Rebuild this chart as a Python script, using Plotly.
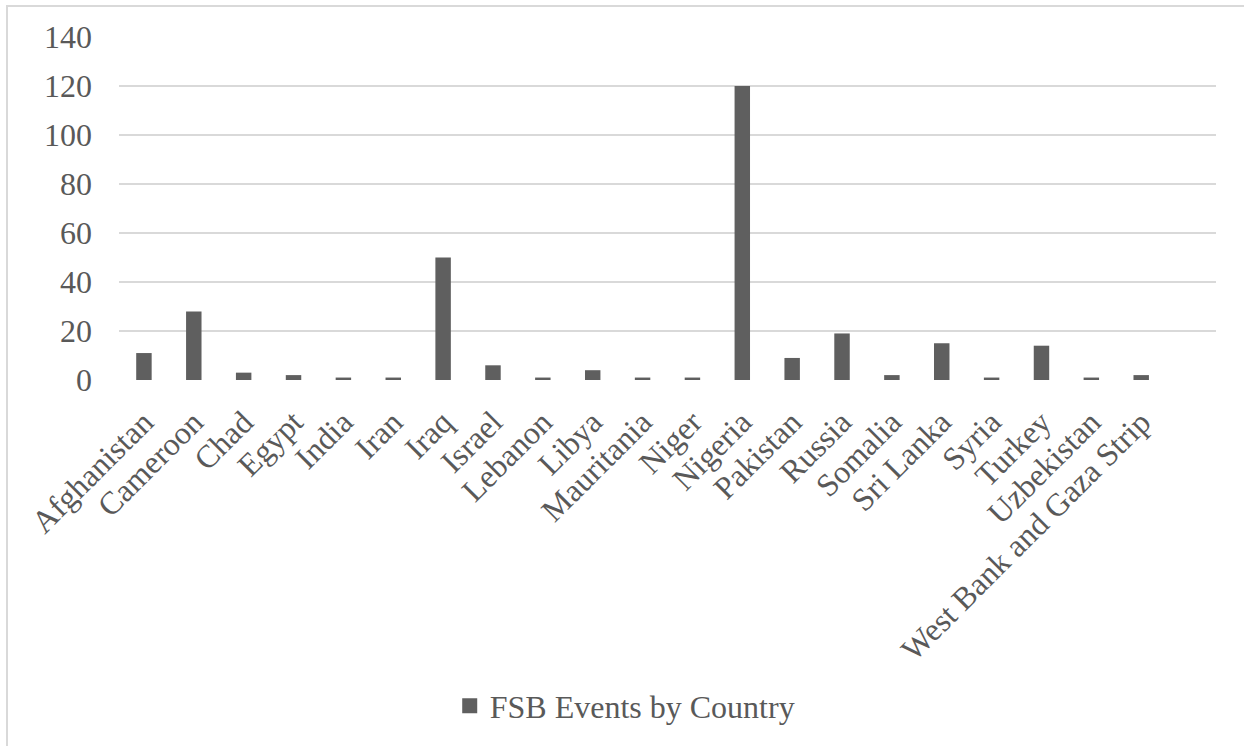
import plotly.graph_objects as go

countries = ["Afghanistan", "Cameroon", "Chad", "Egypt", "India", "Iran", "Iraq",
             "Israel", "Lebanon", "Libya", "Mauritania", "Niger", "Nigeria",
             "Pakistan", "Russia", "Somalia", "Sri Lanka", "Syria", "Turkey",
             "Uzbekistan", "West Bank and Gaza Strip"]
events = [11, 28, 3, 2, 1, 1, 50, 6, 1, 4, 1, 1, 120, 9, 19, 2, 15, 1, 14, 1, 2]
series_name = "FSB Events by Country"
y_ticks = [0, 20, 40, 60, 80, 100, 120, 140]

FONT = "Liberation Serif"
TXT = "#595959"
BAR = "#5f5f5f"
FS = 32

fig = go.Figure()
fig.add_trace(go.Bar(
    x=countries, y=events, name=series_name,
    marker=dict(color=BAR, line=dict(width=0)),
    width=0.31, showlegend=False, legendgroup="s",
))
# legend entry with a larger square swatch
fig.add_trace(go.Scatter(
    x=[None], y=[None], mode="markers", name=series_name, legendgroup="s",
    marker=dict(symbol="square", size=15, color=BAR), showlegend=True,
))

fig.update_layout(
    width=1244, height=746,
    margin=dict(l=119, r=28, t=37, b=366),
    paper_bgcolor="white", plot_bgcolor="white",
    font=dict(family=FONT, size=FS, color=TXT),
    showlegend=True,
    legend=dict(orientation="h", x=0.461, xanchor="center", y=-0.95, yanchor="middle",
                font=dict(family=FONT, size=FS, color=TXT), itemwidth=30,
                bgcolor="rgba(0,0,0,0)"),
)
fig.update_xaxes(
    type="category", range=[-0.5, 21.5], tickangle=-45,
    showgrid=False, showline=False, zeroline=False, ticks="",
    ticklabelstandoff=16,
    tickfont=dict(family=FONT, size=FS, color=TXT),
)
fig.update_yaxes(
    range=[0, 140], tickvals=y_ticks, showgrid=True, gridcolor="#d9d9d9", gridwidth=2,
    zeroline=False, showline=False, ticks="", ticklabelstandoff=26,
    tickfont=dict(family=FONT, size=FS, color=TXT),
)
fig.add_shape(type="rect", xref="paper", yref="paper",
              x0=(7 - 119) / 1097, x1=1.2, y0=-1.3, y1=1 + (37 - 6) / 343,
              line=dict(color="#d9d9d9", width=2), fillcolor="rgba(0,0,0,0)", layer="below")

fig.write_html("out.html")
